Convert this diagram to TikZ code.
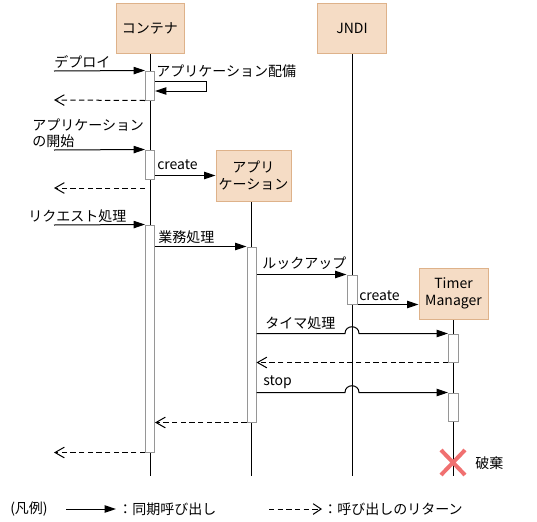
\documentclass[tikz,border=0pt]{standalone}
\usepackage{fontspec}
\setmainfont{Noto Sans CJK JP}
\usetikzlibrary{arrows.meta,calc}
\definecolor{headfill}{RGB}{245,220,197}
\definecolor{headdraw}{RGB}{222,178,138}
\definecolor{bargray}{RGB}{150,150,150}
\definecolor{xred}{RGB}{240,112,112}
\begin{document}
\begin{tikzpicture}[x=0.75pt,y=-0.75pt,
  font=\fontsize{10.5}{12.75}\selectfont,
  head/.style={draw=headdraw, fill=headfill, line width=0.75pt, minimum width=51pt, minimum height=37.5pt, inner sep=0pt, align=center},
  actbar/.style={draw=bargray, fill=white, line width=0.75pt, minimum width=6.75pt, inner sep=0pt},
  lifeline/.style={line width=0.75pt},
  call/.style={line width=0.75pt, -{Triangle[length=8.5pt,width=5.5pt]}},
  ret/.style={line width=0.75pt, dash pattern=on 4pt off 2.5pt, -{Straight Barb[length=7pt,width=8pt]}},
  lbl/.style={inner sep=0pt, anchor=west},
  xmark/.style={draw=xred, line width=3pt}]
\useasboundingbox (0,0) rectangle (537,522);

% coordinates for free ends
\coordinate (s1) at (54,71);
\coordinate (r1) at (54,100);
\coordinate (s2) at (54,150);
\coordinate (r2) at (54,188);
\coordinate (s3) at (54,225);
\coordinate (X) at (453,462.5);

% heads (positions)
\path (150,28) coordinate (Cc) (352,28) coordinate (Jc) (253.5,175.5) coordinate (Ac) (453.5,293.5) coordinate (Tc);

% lifelines
\draw[lifeline] (150,28) -- (150,476);
\draw[lifeline] (352,28) -- (352,476);
\draw[lifeline] (251,175) -- (251,476);
\draw[lifeline] (453,293) -- (453,476);

% heads
\node[head, minimum width=51pt] (C) at (Cc) {コンテナ};
\node[head, minimum width=51.75pt] (J) at (Jc) {JNDI};
\node[head, minimum width=56.25pt, minimum height=38.25pt] (A) at (Ac) {アプリ\\ケーション};
\node[head, minimum width=51.75pt, minimum height=38.25pt] (T) at (Tc) {Timer\\Manager};

% activation bars
\node[actbar, minimum height=21.75pt] (C1) at (150,85.5) {};
\node[actbar, minimum height=21.75pt] (C2) at (150,164.5) {};
\node[actbar, minimum height=170.25pt] (C3) at (150,338.5) {};
\node[actbar, minimum height=131.25pt] (A1) at (251.5,334.5) {};
\node[actbar, minimum height=21.75pt, minimum width=7.5pt] (J1) at (352,289.5) {};
\node[actbar, minimum height=21pt, minimum width=7.5pt] (T1) at (453.5,348) {};
\node[actbar, minimum height=21pt, minimum width=7.5pt] (T2) at (453.5,407) {};

% messages
\draw[call] (s1) -- (C1.north west);
\node[lbl] (l1) at (54,62) {デプロイ};
\draw[call] ([yshift=3.375pt]C1.east) -- ++(51.5,0) -- ++(0,10) -- ([yshift=-4.125pt]C1.east);
\node[lbl] (l2) at (156,71) {アプリケーション配備};
\draw[ret] (C1.south west) -- (r1);

\node[lbl] (l3a) at (32,125) {アプリケーション};
\node[lbl] (l3b) at (32,141) {の開始};
\draw[call] (s2) -- (C2.north west);
\draw[call] (C2.east |- A.west) -- (A.west);
\node[lbl] (l4) at (157,165) {create};
\draw[ret] (r2 -| C2.west) -- (r2);

\node[lbl] (l5) at (28,216) {リクエスト処理};
\draw[call] (s3) -- (C3.north west);
\draw[call] (C3.east |- A1.north) -- (A1.north west);
\node[lbl] (l6) at (158,237) {業務処理};
\draw[call] (A1.east |- J1.north) -- (J1.north west);
\node[lbl] (l7) at (262,263) {ルックアップ};
\draw[call] (J1.south east) -- (J1.south east -| T.west);
\node[lbl] (l8) at (359,296) {create};

\draw[call] (A1.east |- T1.north) -- ($(J1.center |- T1.north)+(-7,0)$)
  .. controls +(0,-9) and +(0,-9) .. ($(J1.center |- T1.north)+(7,0)$) -- (T1.north west);
\node[lbl] (l9) at (265,323) {タイマ処理};
\draw[ret] (T1.south west) -- (A1.east |- T1.south);

\draw[call] (A1.east |- T2.north) -- ($(J1.center |- T2.north)+(-7,0)$)
  .. controls +(0,-9) and +(0,-9) .. ($(J1.center |- T2.north)+(7,0)$) -- (T2.north west);
\node[lbl] (l10) at (263,382) {stop};

\draw[ret] (A1.south west) -- (C3.east |- A1.south);
\draw[ret] (C3.south west) -- (s1 |- C3.south);

% destruction
\draw[xmark] ($(X)+(-12,-12.5)$) -- ($(X)+(12,12.5)$);
\draw[xmark] ($(X)+(12,-12.5)$) -- ($(X)+(-12,12.5)$);
\node[lbl] (l11) at (475,463) {破棄};

% legend
\coordinate (g1) at (66,509);
\coordinate (g2) at (116,509);
\coordinate (g3) at (269,509);
\coordinate (g4) at (322,509);
\node[lbl] (leg0) at (10,509) {(凡例)};
\draw[call] (g1) -- (g2);
\node[lbl] (leg1) at (118,509) {：同期呼び出し};
\draw[ret, -{Straight Barb[length=6pt,width=8pt]}] (g3) -- (g4);
\node[lbl] (leg2) at (323,509) {：呼び出しのリターン};
\end{tikzpicture}
\end{document}
